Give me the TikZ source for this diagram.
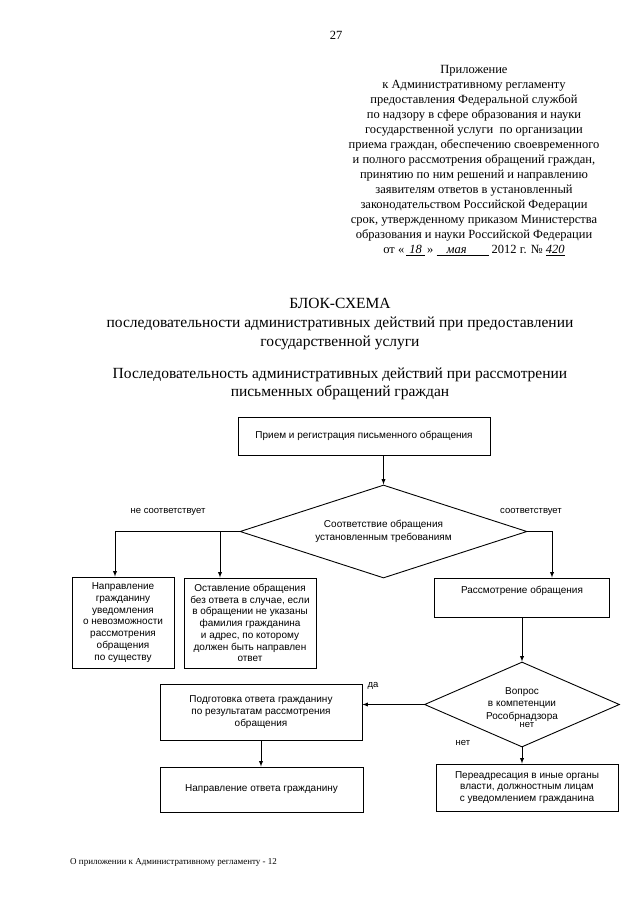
\documentclass[tikz,border=0pt]{standalone}
\usepackage{fontspec}
\setmainfont{Liberation Serif}
\setsansfont{Liberation Sans}
\usetikzlibrary{arrows,shapes.geometric}

\begin{document}
\begin{tikzpicture}[x=1pt,y=-1pt,>=latex,
	blok/.style={draw,line width=0.9pt,font=\sffamily\fontsize{10}{11.7}\selectfont,align=center,inner sep=2pt},
	romb/.style={draw,line width=0.9pt,diamond,aspect=3,font=\sffamily\fontsize{10}{12.5}\selectfont,align=center,inner sep=0pt},
	strelka/.style={->,line width=0.9pt},
	metka/.style={font=\sffamily\fontsize{9.5}{11}\selectfont},
	shapka/.style={font=\fontsize{12.5}{15}\selectfont,align=center,inner sep=0pt},
	zagolovok/.style={font=\fontsize{15.5}{19}\selectfont,align=center,inner sep=0pt}]
	\useasboundingbox (0,0) rectangle (640,905);
	\node[shapka] (nomer) at (336,35) {27};
	\node[shapka,anchor=north] (prilozhenie) at (474,65) {Приложение\\к Административному регламенту\\предоставления Федеральной службой\\по надзору в сфере образования и науки\\государственной услуги~ по организации\\приема граждан, обеспечению своевременного\\и полного рассмотрения обращений граждан,\\принятию по ним решений и направлению\\заявителям ответов в установленный\\законодательством Российской Федерации\\срок, утвержденному приказом Министерства\\образования и науки Российской Федерации\\от «\,\underline{\textit{~18~}}\,» \underline{\hspace{10pt}\textit{мая}\hspace{22pt}} 2012 г. № \underline{\textit{420}}};
	\node[zagolovok,anchor=north] (blokshema) at (340,298) {БЛОК-СХЕМА\\последовательности административных действий при предоставлении\\государственной услуги};
	\node[zagolovok,anchor=north] (posled) at (340,368) {Последовательность административных действий при рассмотрении\\[-1pt]письменных обращений граждан};
	\node[blok,minimum width=252,minimum height=38] (priem) at (364,436) {Прием и регистрация письменного обращения};
	\node[romb,minimum width=287,minimum height=93] (sootv) at (383.5,531.5) {Соответствие обращения\\установленным требованиям};
	\node[blok,minimum width=102,minimum height=91] (uved) at (123,622.5) {Направление\\гражданину\\уведомления\\о невозможности\\рассмотрения\\обращения\\по существу};
	\node[blok,minimum width=132,minimum height=90] (ostav) at (250,623) {Оставление обращения\\без ответа в случае, если\\в обращении не указаны\\фамилия гражданина\\и адрес, по которому\\должен быть направлен\\ответ};
	\node[blok,minimum width=175,minimum height=39,text depth=15.5pt] (rassm) at (522,597.5) {Рассмотрение обращения};
	\node[romb,minimum width=195,minimum height=85] (vopros) at (522,704.5) {Вопрос\\в компетенции\\Рособрнадзора};
	\node[blok,minimum width=202,minimum height=56] (podg) at (261,712) {Подготовка ответа гражданину\\по результатам рассмотрения\\обращения};
	\node[blok,minimum width=203,minimum height=45] (otvet) at (261.5,789.5) {Направление ответа гражданину};
	\node[blok,minimum width=182,minimum height=47] (pereadr) at (527,787.5) {Переадресация в иные органы\\власти, должностным лицам\\с уведомлением гражданина};
	\node[metka] (nesootv) at (168,512) {не соответствует};
	\node[metka] (sootvl) at (531,512) {соответствует};
	\node[metka] (da) at (373,686) {да};
	\node[metka] (net) at (463,743) {нет};
	\node[metka] (netvnutri) at (527,725) {нет};
	\node[font=\fontsize{9}{11}\selectfont,anchor=west,inner sep=0pt] (podval) at (70,862) {О приложении к Административному регламенту - 12};
	\draw[strelka] (priem.south -| sootv.north) -- (sootv.north);
	\draw[strelka] (sootv.west) -| ([xshift=-8]uved.north);
	\draw[strelka] (sootv.west) -| ([xshift=-30]ostav.north);
	\draw[strelka] (sootv.east) -| ([xshift=30]rassm.north);
	\draw[strelka] (rassm.south) -- (vopros.north);
	\draw[strelka] (vopros.west) -- (vopros.west -| podg.east);
	\draw[strelka] (vopros.south) -- (vopros.south |- pereadr.north);
	\draw[strelka] (podg.south) -- (podg.south |- otvet.north);
\end{tikzpicture}
\end{document}
